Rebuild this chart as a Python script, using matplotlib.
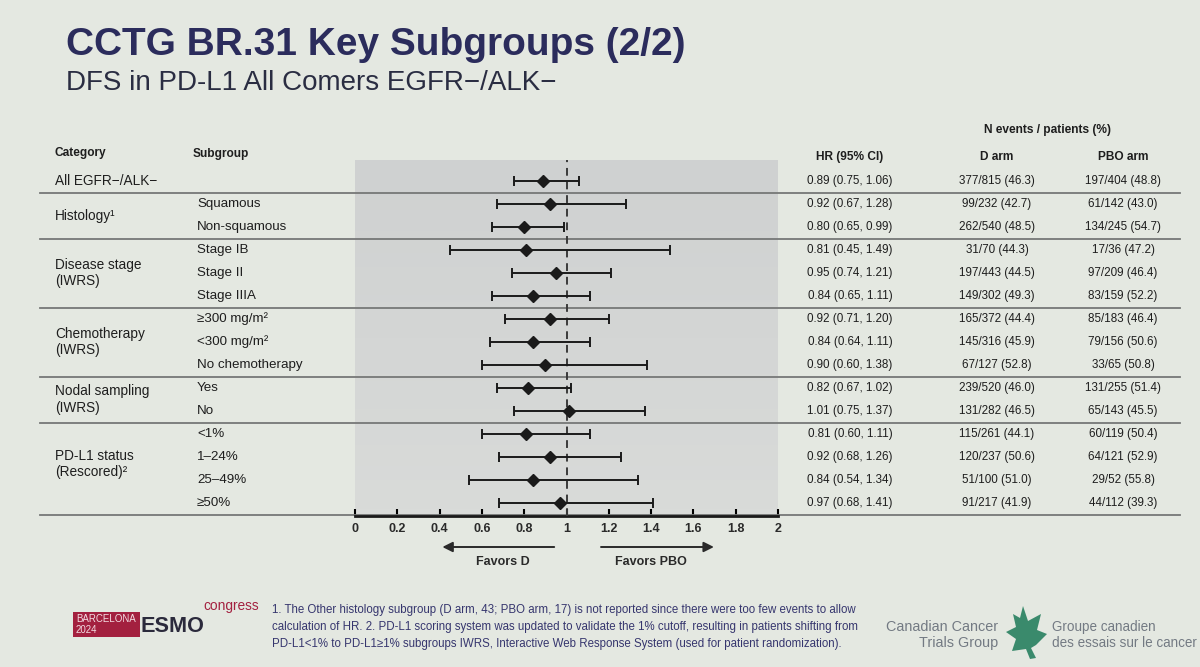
import numpy as np
import matplotlib.pyplot as plt
from matplotlib.transforms import blended_transform_factory
from matplotlib.patches import Rectangle, Polygon

# ---- data ----
subgroups = ['', 'Squamous', 'Non-squamous', 'Stage IB', 'Stage II', 'Stage IIIA',
             '≥300 mg/m²', '<300 mg/m²', 'No chemotherapy', 'Yes', 'No',
             '<1%', '1–24%', '25–49%', '≥50%']
categories = ['All EGFR−/ALK−', 'Histology¹', 'Disease stage\n(IWRS)',
              'Chemotherapy\n(IWRS)', 'Nodal sampling\n(IWRS)', 'PD-L1 status\n(Rescored)²']
cat_rows = [0, 1.5, 4, 7, 9.5, 12.3]
group_breaks = [0.5, 2.5, 5.5, 8.5, 10.5, 14.5]

hr = [0.89, 0.92, 0.80, 0.81, 0.95, 0.84, 0.92, 0.84, 0.90, 0.82, 1.01, 0.81, 0.92, 0.84, 0.97]
ci_lo = [0.75, 0.67, 0.65, 0.45, 0.74, 0.65, 0.71, 0.64, 0.60, 0.67, 0.75, 0.60, 0.68, 0.54, 0.68]
ci_hi = [1.06, 1.28, 0.99, 1.49, 1.21, 1.11, 1.20, 1.11, 1.38, 1.02, 1.37, 1.11, 1.26, 1.34, 1.41]

d_events = [377, 99, 262, 31, 197, 149, 165, 145, 67, 239, 131, 115, 120, 51, 91]
d_pts = [815, 232, 540, 70, 443, 302, 372, 316, 127, 520, 282, 261, 237, 100, 217]
d_pct = [46.3, 42.7, 48.5, 44.3, 44.5, 49.3, 44.4, 45.9, 52.8, 46.0, 46.5, 44.1, 50.6, 51.0, 41.9]
p_events = [197, 61, 134, 17, 97, 83, 85, 79, 33, 131, 65, 60, 64, 29, 44]
p_pts = [404, 142, 245, 36, 209, 159, 183, 156, 65, 255, 143, 119, 121, 52, 112]
p_pct = [48.8, 43.0, 54.7, 47.2, 46.4, 52.2, 46.4, 50.6, 50.8, 51.4, 45.5, 50.4, 52.9, 55.8, 39.3]

xticks = [0, 0.2, 0.4, 0.6, 0.8, 1, 1.2, 1.4, 1.6, 1.8, 2]
xticklabels = ['0', '0.2', '0.4', '0.6', '0.8', '1', '1.2', '1.4', '1.6', '1.8', '2']

footnote = ('1. The Other histology subgroup (D arm, 43; PBO arm, 17) is not reported since there were too few events to allow\n'
            'calculation of HR. 2. PD-L1 scoring system was updated to validate the 1% cutoff, resulting in patients shifting from\n'
            'PD-L1<1% to PD-L1≥1% subgroups IWRS, Interactive Web Response System (used for patient randomization).')

W, H = 1200, 667
bg = '#e4e8e1'
navy = '#2b2c5c'
txt = '#1e1e1e'
plt.rcParams['font.family'] = ['Liberation Sans', 'DejaVu Sans']

fig = plt.figure(figsize=(12, 6.67), dpi=100)
fig.patch.set_facecolor(bg)
renderer = fig.canvas.get_renderer()

def ftext(x, y, s, **kw):
    return fig.text(x / W, 1 - y / H, s, **kw)

def fit(t, width_px):
    # the slide uses a condensed face; scale the size to the measured width
    w = t.get_window_extent(renderer).width
    t.set_fontsize(t.get_fontsize() * width_px / w)
    return t

# forest axes: x 0..2 -> px 355..778, rows at 181 + 23*i px
row0, dy = 181, 23
top_px, bot_px = 160, 516
ax = fig.add_axes([355 / W, 1 - bot_px / H, (778 - 355) / W, (bot_px - top_px) / H])
ax.set_xlim(0, 2)
y_bot, y_top = (bot_px - row0) / dy, (top_px - row0) / dy
ax.set_ylim(y_bot, y_top)
# slight shading gradient of the panel (lighter at the top)
shade = np.linspace(0.0, 1.0, 50).reshape(-1, 1)
ax.imshow(shade, extent=(0, 2, y_bot, y_top), aspect='auto', zorder=0,
          cmap=plt.matplotlib.colors.LinearSegmentedColormap.from_list(
              'panel', ['#d9dbd9', '#cfd1d1']), origin='lower')
ax.set_xlim(0, 2)
ax.set_ylim(y_bot, y_top)

rows = np.arange(len(hr))
hr_a = np.array(hr)
xerr = np.vstack([hr_a - np.array(ci_lo), np.array(ci_hi) - hr_a])
ax.errorbar(hr_a, rows, xerr=xerr, fmt='D', color='#1a1a1a', ms=6,
            elinewidth=1.4, capsize=3.5, capthick=1.4, zorder=4)
ax.axvline(1, color='#3a3a3a', lw=1.4, ls=(0, (4, 3)), zorder=3)

for s in ['top', 'right', 'left']:
    ax.spines[s].set_visible(False)
ax.spines['bottom'].set_linewidth(2)
ax.spines['bottom'].set_color('#1a1a1a')
ax.set_yticks([])
ax.set_xticks(xticks)
ax.set_xticklabels(xticklabels, fontsize=9, fontweight='bold', color='#2a2a2a')
ax.tick_params(axis='x', direction='in', length=5, width=1.5, pad=5)

# arrows under the axis
tr = blended_transform_factory(ax.transData, fig.transFigure)
ax.annotate('', xy=(0.4, 1 - 547 / H), xytext=(0.955, 1 - 547 / H),
            xycoords=tr, textcoords=tr,
            arrowprops=dict(arrowstyle='-|>', color='#2a2a2a', lw=1.4, mutation_scale=15))
ax.annotate('', xy=(1.71, 1 - 547 / H), xytext=(1.15, 1 - 547 / H),
            xycoords=tr, textcoords=tr,
            arrowprops=dict(arrowstyle='-|>', color='#2a2a2a', lw=1.4, mutation_scale=15))
ax.text(0.70, 1 - 562 / H, 'Favors D', transform=tr, ha='center', va='center',
        fontsize=9, fontweight='bold', color='#2a2a2a')
ax.text(1.40, 1 - 562 / H, 'Favors PBO', transform=tr, ha='center', va='center',
        fontsize=9, fontweight='bold', color='#2a2a2a')

# table text, x in figure pixels, y in row units
rt = blended_transform_factory(fig.transFigure, ax.transData)
for y in group_breaks:
    ax.plot([40 / W, 1180 / W], [y, y], transform=rt, color='#767877', lw=1.3,
            clip_on=False, zorder=2)
for lab, y in zip(categories, cat_rows):
    ax.text(55 / W, y, lab, transform=rt, ha='left', va='center', fontsize=9.8,
            color=txt, linespacing=1.25)
for i in rows:
    ax.text(197 / W, i, subgroups[i], transform=rt, ha='left', va='center',
            fontsize=9.6, color=txt)
    ax.text(850 / W, i, f'{hr[i]:.2f} ({ci_lo[i]:.2f}, {ci_hi[i]:.2f})', transform=rt,
            ha='center', va='center', fontsize=8.4, color=txt)
    ax.text(997 / W, i, f'{d_events[i]}/{d_pts[i]} ({d_pct[i]:.1f})', transform=rt,
            ha='center', va='center', fontsize=8.4, color=txt)
    ax.text(1123 / W, i, f'{p_events[i]}/{p_pts[i]} ({p_pct[i]:.1f})', transform=rt,
            ha='center', va='center', fontsize=8.4, color=txt)

hdr = dict(fontsize=8.6, fontweight='bold', color=txt, va='center')
ftext(55, 153, 'Category', ha='left', **hdr)
ftext(193, 154, 'Subgroup', ha='left', **hdr)
ftext(850, 157, 'HR (95% CI)', ha='center', **hdr)
ftext(997, 157, 'D arm', ha='center', **hdr)
ftext(1123, 157, 'PBO arm', ha='center', **hdr)
ftext(1047, 130, 'N events / patients (%)', ha='center', **hdr)

# title block
fit(ftext(66, 45, 'CCTG BR.31 Key Subgroups (2/2)', fontsize=28,
          fontweight='bold', color=navy, va='center', ha='left'), 619)
fit(ftext(66, 83, 'DFS in PD-L1 All Comers EGFR−/ALK−', fontsize=18,
          color='#2a2d42', va='center', ha='left'), 490)

# footer: congress logo
fig.patches.append(Rectangle((73 / W, 1 - 637 / H), 67 / W, 25 / H,
                             transform=fig.transFigure, facecolor='#a3203f', edgecolor='none'))
fit(ftext(76, 624.5, 'BARCELONA\n2024', fontsize=6, color='#f3dce2',
          va='center', ha='left', linespacing=1.05), 60)
fit(ftext(141, 626, 'ESMO', fontsize=25, fontweight='bold', color='#2b2a3c',
          va='center', ha='left'), 64)
fit(ftext(203, 606, 'congress', fontsize=10, color='#a3203f',
          va='center', ha='left'), 56)
fit(ftext(272, 627, footnote, fontsize=8, color='#36366e',
          va='center', ha='left', linespacing=1.55), 590)

# footer: trials group
fit(ftext(998, 635, 'Canadian Cancer\nTrials Group', fontsize=12,
          color='#737a83', va='center', ha='right', linespacing=1.15,
          multialignment='right'), 112)
fit(ftext(1052, 635, 'Groupe canadien\ndes essais sur le cancer', fontsize=12,
          color='#737a83', va='center', ha='left', linespacing=1.15), 145)
leaf = np.array([[1023, 606], [1028, 621], [1041, 614], [1037, 630], [1047, 634],
                 [1036, 645], [1031, 648], [1036, 658], [1030, 659], [1026, 649],
                 [1012, 651], [1016, 639], [1006, 632], [1016, 627], [1013, 614],
                 [1020, 618]], dtype=float)
fig.patches.append(Polygon(np.column_stack([leaf[:, 0] / W, 1 - leaf[:, 1] / H]),
                           closed=True, transform=fig.transFigure,
                           facecolor='#3a8a6c', edgecolor='none'))

fig.savefig('out.png', dpi=100, facecolor=fig.get_facecolor())
